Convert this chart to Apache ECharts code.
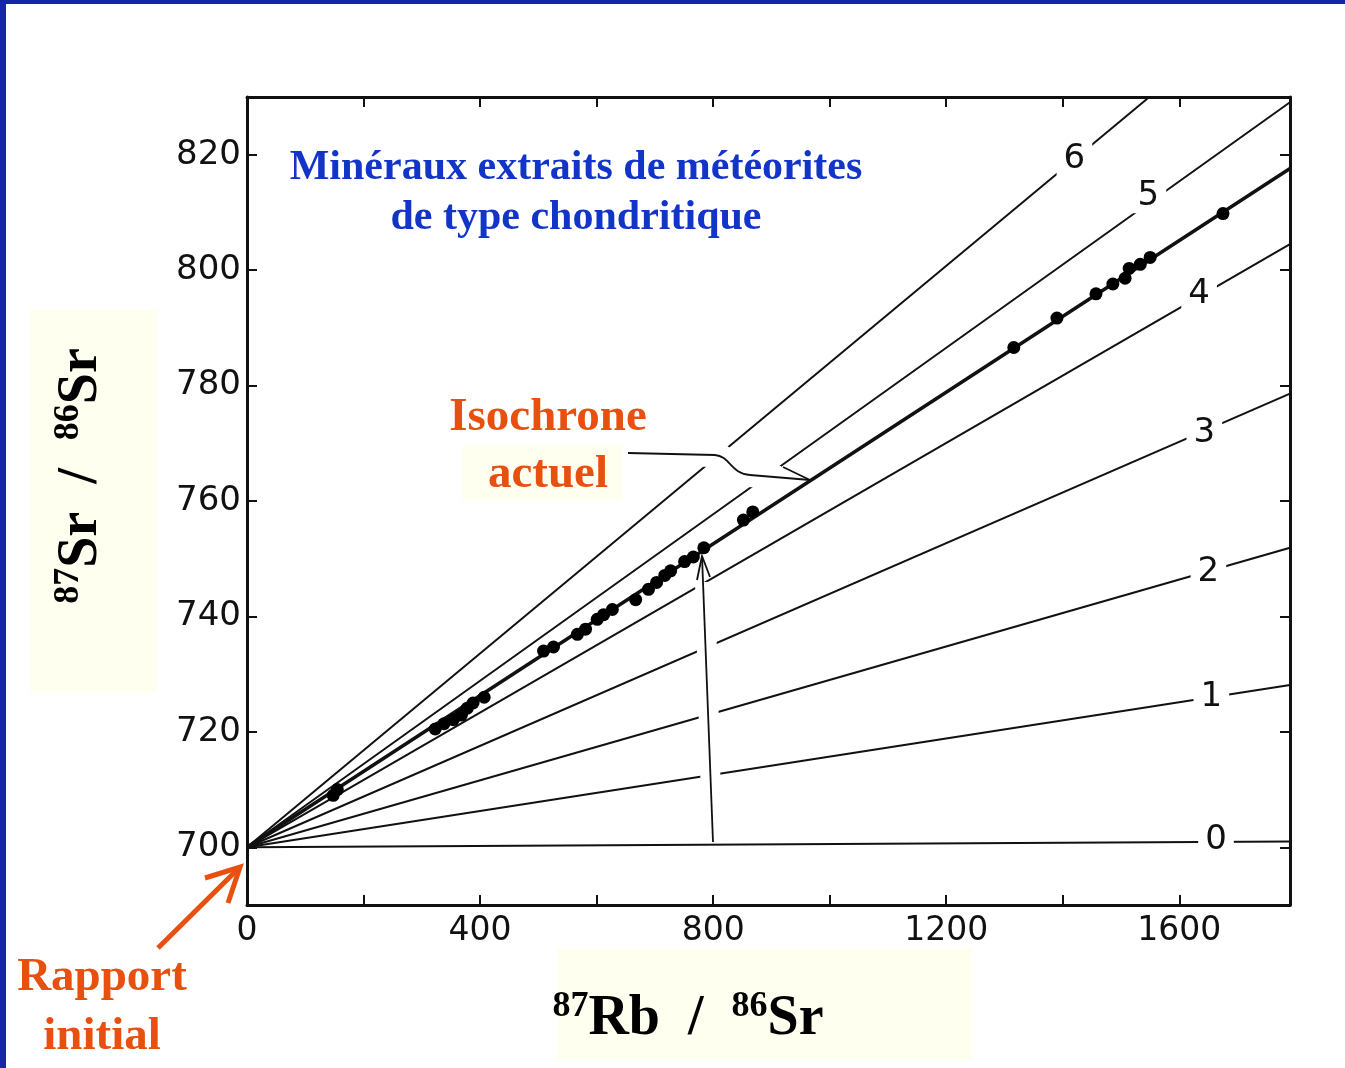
<!DOCTYPE html>
<html>
<head>
<meta charset="utf-8">
<script src="https://cdn.jsdelivr.net/npm/echarts@6/dist/echarts.min.js"></script>
<style>
    html, body { margin: 0; padding: 0; background: #fff; }
    #chart { width: 1345px; height: 1068px; }
</style>
</head>
<body>
<div id="chart"></div>
<script>
// axis ticks / labels
var xTicks = [0, 200, 400, 600, 800, 1000, 1200, 1400, 1600];
var xLabels = [0, 400, 800, 1200, 1600];
var yTicks = [700, 720, 740, 760, 780, 800, 820];

// reference isochrons (age in Ga), all start at the initial ratio
var origin = [0, 700];
var ages = ['0', '1', '2', '3', '4', '5', '6'];
var lineEnds = [[1790, 701], [1790, 728.1], [1790, 751.9], [1790, 778.6], [1790, 804.5], [1790, 829.1], [1546, 829.8]];
var agePos = [[1663, 701.2], [1655, 726.0], [1650, 747.6], [1643, 771.7], [1634, 795.9], [1547, 812.8], [1420, 819.3]];

// present-day isochron
var isochronEnd = [1790, 817.6];

// mineral samples
var samplesX = [148, 155, 323, 338, 354, 368, 378, 388, 407, 509, 526, 567, 581, 601, 612, 627, 667, 689, 703, 717, 727, 751, 766, 784, 852, 868, 1316, 1390, 1457, 1486, 1507, 1514, 1533, 1550, 1675];
var samplesY = [709.0, 710.0, 720.5, 721.4, 722.1, 722.9, 724.1, 725.0, 726.0, 734.0, 734.7, 736.9, 737.8, 739.5, 740.3, 741.2, 742.9, 744.7, 745.9, 747.1, 747.9, 749.5, 750.3, 751.9, 756.7, 758.1, 786.6, 791.7, 795.9, 797.6, 798.6, 800.3, 801.0, 802.2, 809.8];

var chart = echarts.init(document.getElementById('chart'));

var black = '#111';
var orange = '#e8500f';
var blue = '#1234c8';
var pale = '#fffff0';

function xAxis(pos, labels) {
    return {
        type: 'value', position: pos, min: 0, max: 1790,
        axisLine: { show: true, onZero: false, lineStyle: { color: black, width: 3 } },
        axisTick: { show: true, inside: true, length: 10, customValues: xTicks, lineStyle: { color: black, width: 2 } },
        axisLabel: labels ? {
            customValues: xLabels, fontSize: 33, fontFamily: 'DejaVu Sans', color: black, margin: 10,
            formatter: function (v) { return String(v); }
        } : { show: false },
        splitLine: { show: false }
    };
}
function yAxis(pos, labels) {
    return {
        type: 'value', position: pos, min: 690, max: 830,
        axisLine: { show: true, onZero: false, lineStyle: { color: black, width: 3 } },
        axisTick: { show: true, inside: true, length: 10, customValues: yTicks, lineStyle: { color: black, width: 2 } },
        axisLabel: labels ? { customValues: yTicks, fontSize: 34, fontFamily: 'DejaVu Sans', color: black, margin: 6 } : { show: false },
        splitLine: { show: false }
    };
}

var series = ages.map(function (a, i) {
    return {
        type: 'line', data: [origin, lineEnds[i]], symbol: 'none', silent: true,
        lineStyle: { color: black, width: 2 }, z: 2
    };
});
series.push({
    type: 'line', data: [origin, isochronEnd], symbol: 'none', silent: true,
    lineStyle: { color: black, width: 3.5 }, z: 3
});
series.push({
    type: 'scatter', symbolSize: 13, itemStyle: { color: '#000', opacity: 1 }, z: 4,
    data: samplesX.map(function (x, i) { return [x, samplesY[i]]; })
});

chart.setOption({
    animation: false,
    grid: { left: 247, right: 55, top: 97, bottom: 163 },
    xAxis: [xAxis('bottom', true), xAxis('top', false)],
    yAxis: [yAxis('left', true), yAxis('right', false)],
    series: series
});

var supStyle = { fontSize: 36, fontFamily: 'Liberation Serif', fontWeight: 'bold', fill: '#000', lineHeight: 40, verticalAlign: 'top' };
var bigStyle = { fontSize: 56, fontFamily: 'Liberation Serif', fontWeight: 'bold', fill: '#000', lineHeight: 62, verticalAlign: 'middle' };
var axisText = '{s|87}{b|Rb}{b|  /  }{s|86}{b|Sr}';
var axisTextY = '{s|87}{b|Sr}{b|  /  }{s|86}{b|Sr}';

var halo = { stroke: '#fff', lineWidth: 24, fill: null };
var thin = { stroke: black, lineWidth: 1.8, fill: null };

var graphics = [
    // slide frame
    { type: 'rect', shape: { x: 0, y: 0, width: 1345, height: 4 }, style: { fill: '#1526a8' }, z: 50 },
    { type: 'rect', shape: { x: 0, y: 0, width: 6, height: 1068 }, style: { fill: '#1526a8' }, z: 50 },
    // pale boxes
    { type: 'rect', shape: { x: 30, y: 310, width: 127, height: 382 }, style: { fill: pale }, z: -1 },
    { type: 'rect', shape: { x: 557, y: 948, width: 415, height: 112 }, style: { fill: pale }, z: -1 },
    { type: 'rect', shape: { x: 462, y: 445, width: 160, height: 55 }, style: { fill: pale }, z: -1 },
    // axis names
    { type: 'text', x: 688, y: 1020, z: 60,
      style: { text: axisText, rich: { s: supStyle, b: bigStyle }, align: 'center', verticalAlign: 'middle' } },
    { type: 'text', x: 82, y: 476, rotation: Math.PI / 2, z: 60,
      style: { text: axisTextY, rich: { s: supStyle, b: bigStyle }, align: 'center', verticalAlign: 'middle' } },
    // title
    { type: 'text', x: 576, y: 168, z: 60,
      style: { text: 'Minéraux extraits de météorites', font: 'bold 42px "Liberation Serif"', fill: blue, align: 'center', verticalAlign: 'middle' } },
    { type: 'text', x: 576, y: 218, z: 60,
      style: { text: 'de type chondritique', font: 'bold 42px "Liberation Serif"', fill: blue, align: 'center', verticalAlign: 'middle' } },
    // isochrone annotation
    { type: 'text', x: 548, y: 418, z: 60,
      style: { text: 'Isochrone', font: 'bold 47px "Liberation Serif"', fill: orange, align: 'center', verticalAlign: 'middle' } },
    { type: 'text', x: 548, y: 475, z: 60,
      style: { text: 'actuel', font: 'bold 47px "Liberation Serif"', fill: orange, align: 'center', verticalAlign: 'middle' } },
    { type: 'polyline', z: 90, shape: { points: [[660, 454], [715, 455]] }, style: halo },
    { type: 'bezierCurve', z: 90, shape: { x1: 715, y1: 455, cpx1: 730, cpy1: 456, cpx2: 731, cpy2: 474, x2: 750, y2: 475 }, style: halo },
    { type: 'polyline', z: 90, shape: { points: [[750, 475], [780, 478]] }, style: halo },
    { type: 'polyline', z: 95, shape: { points: [[628, 453], [715, 455]] }, style: thin },
    { type: 'bezierCurve', z: 95, shape: { x1: 715, y1: 455, cpx1: 730, cpy1: 456, cpx2: 731, cpy2: 474, x2: 750, y2: 475 }, style: thin },
    { type: 'polyline', z: 95, shape: { points: [[750, 475], [810, 480]] }, style: thin },
    { type: 'polyline', z: 95, shape: { points: [[783, 467], [810, 480]] }, style: thin },
    // vertical arrow to the present isochron
    { type: 'line', z: 90, shape: { x1: 712, y1: 836, x2: 705, y2: 582 }, style: { stroke: '#fff', lineWidth: 20 } },
    { type: 'polyline', z: 95, shape: { points: [[713, 842], [702, 556]] }, style: thin },
    { type: 'polyline', z: 95, shape: { points: [[697, 580], [702, 556], [710, 577]] }, style: thin },
    // initial ratio
    { type: 'text', x: 102, y: 978, z: 60,
      style: { text: 'Rapport', font: 'bold 47px "Liberation Serif"', fill: orange, align: 'center', verticalAlign: 'middle' } },
    { type: 'text', x: 102, y: 1037, z: 60,
      style: { text: 'initial', font: 'bold 47px "Liberation Serif"', fill: orange, align: 'center', verticalAlign: 'middle' } },
    { type: 'polyline', z: 95, shape: { points: [[158, 948], [238, 869]] }, style: { stroke: orange, lineWidth: 5, fill: null } },
    { type: 'polyline', z: 95, shape: { points: [[205, 878], [240, 867], [228, 903]] }, style: { stroke: orange, lineWidth: 5, fill: null, lineJoin: 'miter' } }
];

// age labels on the isochrons, placed through the grid's scales
agePos.forEach(function (p, i) {
    var px = chart.convertToPixel({ gridIndex: 0 }, p);
    graphics.push({
        type: 'text', x: px[0], y: px[1], z: 80,
        style: {
            text: ages[i], font: '34px "DejaVu Sans"', fill: black, align: 'center', verticalAlign: 'middle',
            backgroundColor: '#fff', padding: [0, 7]
        }
    });
});

chart.setOption({ graphic: graphics });
</script>
</body>
</html>
